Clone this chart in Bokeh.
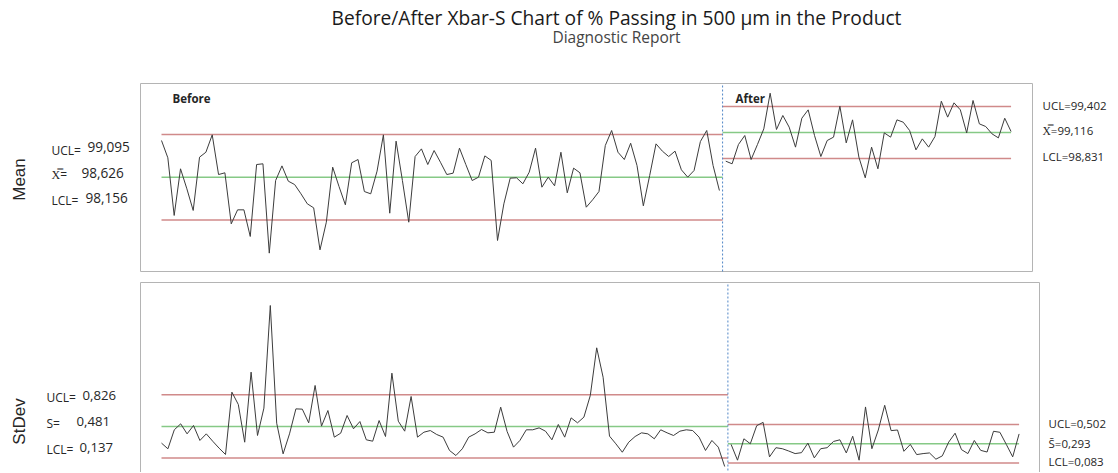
import math
from bokeh.plotting import figure
from bokeh.models import Label, Range1d
from bokeh.layouts import column
from bokeh.embed import file_html
from bokeh.resources import INLINE

# ---------------- data ----------------
before_mean = [99.029, 98.839, 98.205, 98.718, 98.498, 98.260, 98.846, 98.900, 99.091, 98.655,
               98.674, 98.113, 98.267, 98.267, 97.974, 98.765, 98.773, 97.791, 98.589, 98.750,
               98.582, 98.545, 98.443, 98.333, 98.289, 97.827, 98.131, 98.736, 98.523, 98.322,
               98.784, 98.820, 98.468, 98.443, 98.692, 99.091, 98.230, 99.022, 98.589, 98.131,
               98.853, 98.937, 98.765, 98.919, 98.790, 98.655, 98.670, 98.945, 98.765, 98.589,
               98.626, 98.860, 98.810, 97.930, 98.333, 98.615, 98.619, 98.553, 98.681, 98.945,
               98.516, 98.626, 98.531, 98.900, 98.454, 98.725, 98.674, 98.296, 98.377, 98.468,
               98.974, 99.139, 98.900, 98.820, 98.999, 98.754, 98.311, 98.644, 98.992, 98.912,
               98.853, 98.912, 98.707, 98.626, 98.699, 99.018, 99.139, 98.754, 98.479]
after_mean = [98.802, 98.773, 98.985, 99.084, 98.820, 98.985, 99.157, 99.549, 99.150, 99.304,
              99.176, 98.956, 99.274, 99.366, 99.084, 98.853, 99.029, 99.066, 99.406, 99.003,
              99.256, 98.846, 98.619, 98.956, 98.718, 99.113, 99.066, 99.256, 99.230, 99.139,
              98.926, 99.047, 98.956, 99.073, 99.461, 99.286, 99.443, 99.366, 99.113, 99.469,
              99.212, 99.183, 99.102, 99.058, 99.274, 99.128]
before_sd = [0.300, 0.238, 0.445, 0.510, 0.401, 0.492, 0.329, 0.401, 0.321, 0.245,
             0.176, 0.855, 0.721, 0.310, 1.073, 0.383, 0.681, 1.799, 0.517, 0.183,
             0.401, 0.673, 0.670, 0.521, 0.928, 0.485, 0.655, 0.365, 0.408, 0.601,
             0.456, 0.535, 0.336, 0.321, 0.546, 0.372, 1.062, 0.539, 0.430, 0.808,
             0.365, 0.419, 0.437, 0.394, 0.365, 0.220, 0.165, 0.238, 0.365, 0.401,
             0.448, 0.412, 0.419, 0.692, 0.427, 0.256, 0.329, 0.445, 0.445, 0.466,
             0.430, 0.336, 0.503, 0.365, 0.575, 0.521, 0.583, 0.819, 1.338, 1.018,
             0.376, 0.292, 0.201, 0.310, 0.372, 0.412, 0.401, 0.347, 0.445, 0.412,
             0.383, 0.430, 0.445, 0.437, 0.365, 0.220, 0.329, 0.256, 0.045]
after_sd = [0.286, 0.114, 0.347, 0.293, 0.490, 0.526, 0.150, 0.250, 0.239, 0.214,
            0.186, 0.196, 0.300, 0.139, 0.239, 0.250, 0.318, 0.336, 0.193, 0.375,
            0.114, 0.694, 0.239, 0.443, 0.712, 0.436, 0.443, 0.211, 0.286, 0.175,
            0.186, 0.193, 0.125, 0.161, 0.311, 0.408, 0.229, 0.186, 0.329, 0.221,
            0.203, 0.429, 0.418, 0.286, 0.150, 0.400]

mean_limits_before = [99.095, 98.626, 98.156]   # UCL, CL, LCL
mean_limits_after = [99.402, 99.116, 98.831]
sd_limits_before = [0.826, 0.481, 0.137]
sd_limits_after = [0.502, 0.293, 0.083]

mean_left_labels = ["99,095", "98,626", "98,156"]
mean_right_labels = ["UCL=99,402", "X\u033F=99,116", "LCL=98,831"]
sd_left_labels = ["0,826", "0,481", "0,137"]
sd_right_labels = ["UCL=0,502", "S\u0304=0,293", "LCL=0,083"]

title_text = "Before/After Xbar-S Chart of % Passing in 500 \u00b5m in the Product"
subtitle_text = "Diagnostic Report"

# ---------------- style ----------------
LINE_C = "#3c3c3c"
UCL_C = "#d08a8a"
CL_C = "#86c986"
DIV_C = "#4f86c6"
FRAME_C = "#b4b4b4"
TXT_C = "#262626"
FONT = "Open Sans"
W = 1118

n_b = len(before_mean)
n_a = len(after_mean)
xb = list(range(1, n_b + 1))
xa = list(range(n_b + 1, n_b + n_a + 1))
split = n_b + 0.5
x_end = n_b + n_a


def lbl(p, top, H, X, Y, text, size, align="left", bold=False, color=TXT_C,
        font=FONT, angle=0.0):
    p.add_layout(Label(x=X, y=top + H - Y, x_units="screen", y_units="screen",
                       text=text, text_font=font, text_font_size=f"{size}px",
                       text_color=color, text_align=align, text_baseline="middle",
                       text_font_style="bold" if bold else "normal", angle=angle))


def make_fig(H, top, x0px, dxpx, cy, cv, ppu):
    # pixel -> data mapping of the page region covered by this figure
    xd = lambda px: 1 + (px - x0px) / dxpx
    yd = lambda py: cv + (cy - py) / ppu
    p = figure(width=W, height=H, output_backend="svg", toolbar_location=None,
               x_range=Range1d(xd(0), xd(W)), y_range=Range1d(yd(top + H), yd(top)),
               x_axis_location=None, y_axis_location=None,
               min_border=0, min_border_left=0, min_border_right=0,
               min_border_top=0, min_border_bottom=0)
    p.xgrid.grid_line_color = None
    p.ygrid.grid_line_color = None
    p.outline_line_color = None
    return p, xd, yd


def panel(p, yb, ya, lb, la, box):
    bl, br, bb, bt, show_bottom = box
    xs = [bl, bl, br, br] + ([bl] if show_bottom else [])
    ys = [bb, bt, bt, bb] + ([bb] if show_bottom else [])
    p.line(xs, ys, line_color=FRAME_C, line_width=1)
    for v, c in zip(lb, [UCL_C, CL_C, UCL_C]):
        p.line([1, split], [v, v], line_color=c, line_width=1.5)
    for v, c in zip(la, [UCL_C, CL_C, UCL_C]):
        p.line([split, x_end], [v, v], line_color=c, line_width=1.5)
    p.line(xb, yb, line_color=LINE_C, line_width=1)
    p.line(xa, ya, line_color=LINE_C, line_width=1)
    p.segment(x0=[split], y0=[bb], x1=[split], y1=[bt], line_color=DIV_C,
              line_dash="2 2", line_width=1)


# ---------------- top panel (Mean) ----------------
H1, T1 = 276, 0
p1, xd1, yd1 = make_fig(H1, T1, 161, 6.34, 176.67, mean_limits_before[1], 90.97)
panel(p1, before_mean, after_mean, mean_limits_before, mean_limits_after,
      (xd1(140), xd1(1032), yd1(271), yd1(83), True))

lbl(p1, T1, H1, 616, 17, title_text, 19.2, align="center", color="#1a1a1a")
lbl(p1, T1, H1, 616, 36, subtitle_text, 15.5, align="center", color="#444444")
lbl(p1, T1, H1, 172, 98, "Before", 11.5, bold=True)
lbl(p1, T1, H1, 735, 98, "After", 11.5, bold=True)
lbl(p1, T1, H1, 19, 179, "Mean", 17, align="center", font="Liberation Sans",
    angle=math.pi / 2)
lbl(p1, T1, H1, 51, 150, "UCL=", 12)
lbl(p1, T1, H1, 87, 146, mean_left_labels[0], 13.6)
lbl(p1, T1, H1, 51, 174, "X\u033F=", 12)
lbl(p1, T1, H1, 81, 172, mean_left_labels[1], 13.6)
lbl(p1, T1, H1, 51, 200, "LCL=", 12)
lbl(p1, T1, H1, 85, 197, mean_left_labels[2], 13.6)
for txt, Y in zip(mean_right_labels, [105, 130, 156]):
    lbl(p1, T1, H1, 1042, Y, txt, 11.5)

# ---------------- bottom panel (StDev) ----------------
H2, T2 = 196, 276
p2, xd2, yd2 = make_fig(H2, T2, 161, 6.40, 426.0, sd_limits_before[1], 91.8)
panel(p2, before_sd, after_sd, sd_limits_before, sd_limits_after,
      (xd2(140), xd2(1039), yd2(490), yd2(282), False))

lbl(p2, T2, H2, 19, 421, "StDev", 17, align="center", font="Liberation Sans",
    angle=math.pi / 2)
lbl(p2, T2, H2, 46, 397, "UCL=", 12)
lbl(p2, T2, H2, 82, 395, sd_left_labels[0], 13.2)
lbl(p2, T2, H2, 46, 423, "S=", 12)
lbl(p2, T2, H2, 76, 421, sd_left_labels[1], 13.2)
lbl(p2, T2, H2, 46, 449, "LCL=", 12)
lbl(p2, T2, H2, 79, 447, sd_left_labels[2], 13.2)
for txt, Y in zip(sd_right_labels, [423, 443, 461]):
    lbl(p2, T2, H2, 1048, Y, txt, 11.5)

layout = column(p1, p2, spacing=0)
open("out.html", "w").write(file_html(layout, INLINE))
